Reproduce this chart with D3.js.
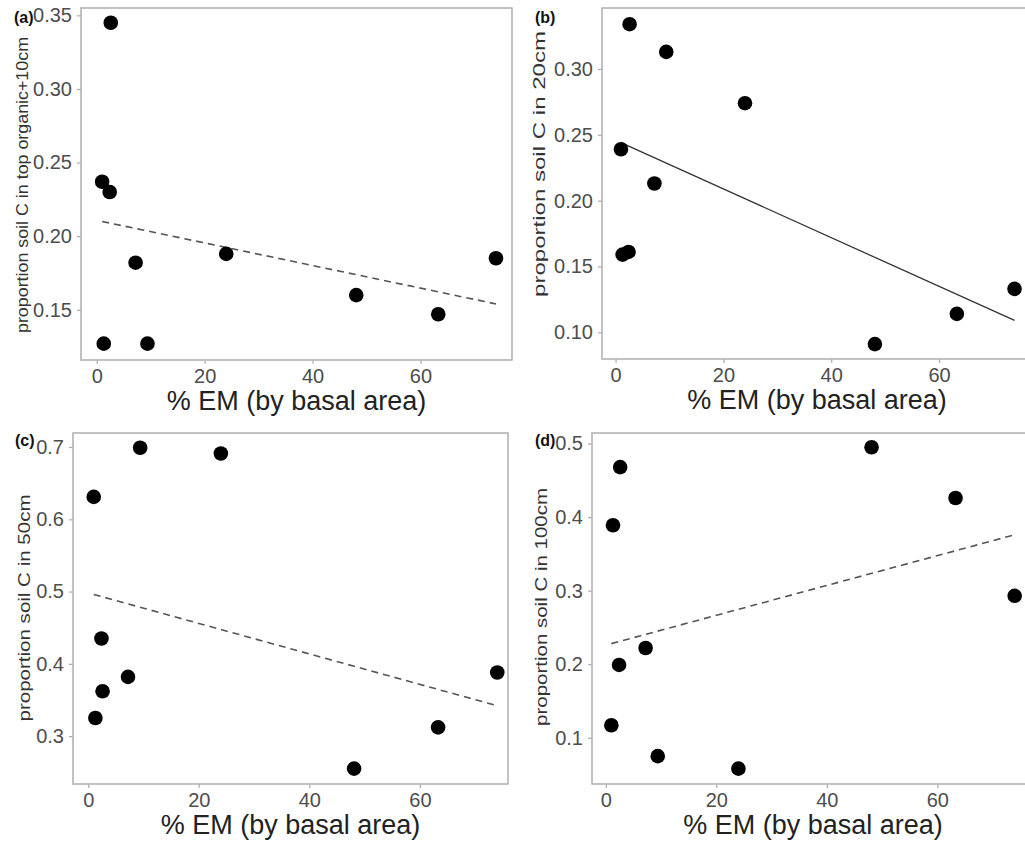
<!DOCTYPE html>
<html>
<head>
<meta charset="utf-8">
<script src="https://cdn.jsdelivr.net/npm/d3@7"></script>
<style>
  body { margin: 0; background: #fff; }
  svg { display: block; font-family: "Liberation Sans", Arial, sans-serif; }
</style>
</head>
<body>
<div id="chart"></div>
<script>
// Data (% EM by basal area for each site, and soil C proportions per depth)
const emPct = [1.0, 1.3, 2.4, 2.6, 7.2, 9.4, 24.0, 48.1, 63.3, 74.0];
const propTop10 = [0.237, 0.127, 0.230, 0.345, 0.182, 0.127, 0.188, 0.160, 0.147, 0.185];
const prop20 = [0.239, 0.159, 0.161, 0.334, 0.213, 0.313, 0.274, 0.091, 0.114, 0.133];
const prop50 = [0.631, 0.325, 0.435, 0.362, 0.382, 0.699, 0.691, 0.255, 0.312, 0.388];
const prop100 = [0.117, 0.389, 0.199, 0.468, 0.222, 0.075, 0.058, 0.495, 0.426, 0.293];

// fitted lines, read at the ends of the x range
const fitX = [1.0, 74.0];
const fitTop10 = [0.210, 0.154];
const fit20 = [0.244, 0.109];
const fit50 = [0.496, 0.342];
const fit100 = [0.228, 0.376];

const xTicks = [0, 20, 40, 60];
const yTicksTop10 = [0.15, 0.20, 0.25, 0.30, 0.35];
const yTicks20 = [0.10, 0.15, 0.20, 0.25, 0.30];
const yTicks50 = [0.3, 0.4, 0.5, 0.6, 0.7];
const yTicks100 = [0.1, 0.2, 0.3, 0.4, 0.5];

const xTitle = "% EM (by basal area)";

const width = 1025;
const height = 843;

const svg = d3.select("#chart")
    .append("svg")
    .attr("width", width)
    .attr("height", height);

svg.append("rect").attr("width", width).attr("height", height).attr("fill", "#fff");

// panel layout
const panels = [
    { tag: "(a)", y: propTop10, fit: fitTop10, dashed: true, yTicks: yTicksTop10, fmt: ".2f",
      title: "proportion soil C in top organic+10cm", titleLen: 296, titleX: 28, titleY: 185,
      box: [81, 8, 512, 360], xDom: [-2.92, 76.97], yDom: [0.1159, 0.355], tagX: 14, tagY: 23 },
    { tag: "(b)", y: prop20, fit: fit20, dashed: false, yTicks: yTicks20, fmt: ".2f",
      title: "proportion soil C in 20cm", titleLen: 266, titleX: 545, titleY: 164,
      box: [602, 8, 1032, 359], xDom: [-2.52, 77.24], yDom: [0.0797, 0.3463], tagX: 535, tagY: 23 },
    { tag: "(c)", y: prop50, fit: fit50, dashed: true, yTicks: yTicks50, fmt: ".1f",
      title: "proportion soil C in 50cm", titleLen: 227, titleX: 30, titleY: 608,
      box: [73, 433, 508, 784], xDom: [-2.75, 75.94], yDom: [0.2337, 0.7194], tagX: 15, tagY: 446 },
    { tag: "(d)", y: prop100, fit: fit100, dashed: true, yTicks: yTicks100, fmt: ".1f",
      title: "proportion soil C in 100cm", titleLen: 238, titleX: 547, titleY: 607,
      box: [592, 433, 1034, 784], xDom: [-2.5, 77.5], yDom: [0.0371, 0.5144], tagX: 535, tagY: 446 }
];

panels.forEach(p => {
    const [x0, y0, x1, y1] = p.box;
    const x = d3.scaleLinear().domain(p.xDom).range([x0, x1]);
    const y = d3.scaleLinear().domain(p.yDom).range([y1, y0]);
    const g = svg.append("g");

    // axes
    const ax = g.append("g")
        .attr("transform", `translate(0,${y1})`)
        .call(d3.axisBottom(x).tickValues(xTicks).tickSize(4).tickPadding(5).tickSizeOuter(0));
    const ay = g.append("g")
        .attr("transform", `translate(${x0},0)`)
        .call(d3.axisLeft(y).tickValues(p.yTicks).tickFormat(d3.format(p.fmt)).tickSize(4).tickPadding(5).tickSizeOuter(0));
    [ax, ay].forEach(a => {
        a.select(".domain").remove();
        a.selectAll(".tick line").attr("stroke", "#aaa").attr("stroke-width", 1.2);
        a.selectAll(".tick text").attr("fill", "#4d4d4d").style("font-size", "20px");
    });

    // panel border
    g.append("rect")
        .attr("x", x0).attr("y", y0)
        .attr("width", x1 - x0).attr("height", y1 - y0)
        .attr("fill", "none")
        .attr("stroke", "#b3b3b3")
        .attr("stroke-width", 1.6);

    // fitted line
    g.append("line")
        .attr("x1", x(fitX[0])).attr("y1", y(p.fit[0]))
        .attr("x2", x(fitX[1])).attr("y2", y(p.fit[1]))
        .attr("stroke", p.dashed ? "#555" : "#333")
        .attr("stroke-width", p.dashed ? 1.6 : 1.3)
        .attr("stroke-dasharray", p.dashed ? "7,5" : null);

    // points
    g.selectAll("circle")
        .data(emPct.map((e, i) => ({ e: e, v: p.y[i] })))
        .enter()
        .append("circle")
        .attr("cx", d => x(d.e))
        .attr("cy", d => y(d.v))
        .attr("r", 7.3)
        .attr("fill", "#000");

    // titles
    g.append("text")
        .attr("x", (x0 + x1) / 2)
        .attr("y", y1 + 50)
        .attr("text-anchor", "middle")
        .attr("fill", "#222")
        .style("font-size", "27px")
        .text(xTitle);

    g.append("text")
        .attr("transform", `translate(${p.titleX},${p.titleY}) rotate(-90)`)
        .attr("text-anchor", "middle")
        .attr("fill", "#333")
        .attr("textLength", p.titleLen)
        .attr("lengthAdjust", "spacingAndGlyphs")
        .style("font-size", "17px")
        .text(p.title);

    g.append("text")
        .attr("x", p.tagX)
        .attr("y", p.tagY)
        .attr("fill", "#111")
        .style("font-size", "16px")
        .style("font-weight", "bold")
        .text(p.tag);
});
</script>
</body>
</html>
